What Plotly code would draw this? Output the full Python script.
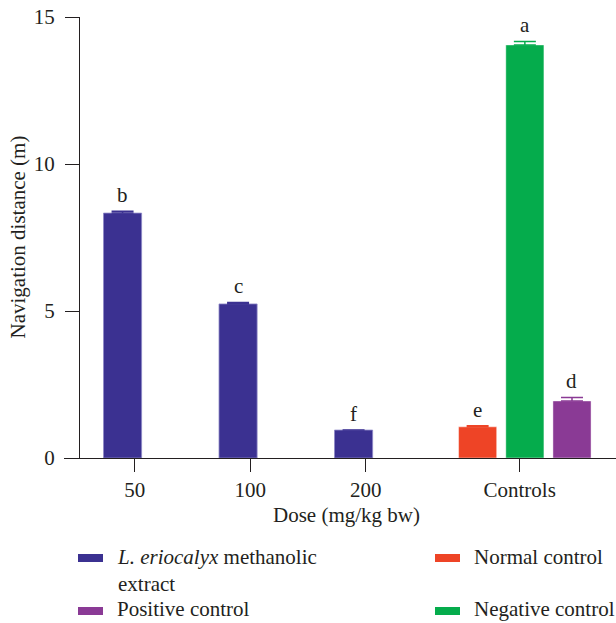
import plotly.graph_objects as go

# ---- data ----
dose_labels = ["50", "100", "200"]
extract_values = [8.33, 5.24, 0.95]
extract_errors = [0.06, 0.05, 0.0]
extract_letters = ["b", "c", "f"]

control_names = ["Normal control", "Negative control", "Positive control"]
control_values = [1.06, 14.05, 1.94]
control_errors = [0.04, 0.12, 0.12]
control_letters = ["e", "a", "d"]

tick_labels = dose_labels + ["Controls"]
y_ticks = [0, 5, 10, 15]

extract_name = "<i>L. eriocalyx</i> methanolic<br>extract"

# ---- styles ----
C_EXTRACT = "#3B3191"
C_CONTROLS = ["#EE4426", "#05AC4C", "#8A3A95"]
TXT = "#231F20"
FONT = "Liberation Serif"
FS = 21

# layout positions (axis units)
dose_pos = [0, 1, 2]
controls_pos = 3.333
bar_w = 0.33
extract_shift = -0.105
control_shifts = [-0.364, 0.045, 0.453]

W, H = 616, 623
L, R, T, B = 64, 0, 17, 165
PW, PH = W - L - R, H - T - B


def px(x):
    return (x - L) / PW


def py(y):
    return 1 - (y - T) / PH


fig = go.Figure()

fig.add_trace(go.Bar(
    x=dose_pos, y=extract_values, width=bar_w,
    offset=extract_shift - bar_w / 2,
    marker=dict(color=C_EXTRACT, line=dict(color="#8E88C6", width=0.8)),
    error_y=dict(type="data", array=extract_errors, arrayminus=[0] * 3,
                 symmetric=False, color=C_EXTRACT, thickness=1.5, width=11),
    showlegend=False,
))

for name, v, e, col, sh in zip(control_names, control_values, control_errors,
                               C_CONTROLS, control_shifts):
    fig.add_trace(go.Bar(
        x=[controls_pos], y=[v], width=bar_w, offset=sh - bar_w / 2,
        marker=dict(color=col, line=dict(color="rgba(255,255,255,0.55)", width=0.8)),
        error_y=dict(type="data", array=[e], arrayminus=[0], symmetric=False,
                     color=col, thickness=1.5, width=11),
        name=name, showlegend=False,
    ))

annotations = []
# significance letters
for p, v, e, lt in zip(dose_pos, extract_values, extract_errors, extract_letters):
    annotations.append(dict(x=p + extract_shift, y=v + e, xref="x", yref="y",
                            text=lt, showarrow=False, yanchor="bottom", yshift=2,
                            font=dict(family=FONT, size=FS, color=TXT)))
for v, e, lt, sh in zip(control_values, control_errors, control_letters, control_shifts):
    annotations.append(dict(x=controls_pos + sh, y=v + e, xref="x", yref="y",
                            text=lt, showarrow=False, yanchor="bottom", yshift=2,
                            font=dict(family=FONT, size=FS, color=TXT)))

# axis titles
annotations.append(dict(x=px(17), y=0.5, xref="paper", yref="paper",
                        text="Navigation distance (m)", textangle=-90,
                        showarrow=False, xanchor="center", yanchor="middle",
                        font=dict(family=FONT, size=FS, color=TXT)))
annotations.append(dict(x=px(347), y=py(515), xref="paper", yref="paper",
                        text="Dose (mg/kg bw)", showarrow=False,
                        xanchor="center", yanchor="middle",
                        font=dict(family=FONT, size=FS, color=TXT)))

# manual legend
legend_items = [
    (extract_name, C_EXTRACT, 78, 558, 570),
    (control_names[0], C_CONTROLS[0], 435, 558, 557),
    (control_names[2], C_CONTROLS[2], 78, 611, 609),
    (control_names[1], C_CONTROLS[1], 435, 611, 609),
]
shapes = []
for text, col, sx, sy, ty in legend_items:
    shapes.append(dict(type="rect", xref="paper", yref="paper",
                       x0=px(sx), x1=px(sx + 25), y0=py(sy - 4), y1=py(sy + 4),
                       fillcolor=col, line=dict(width=0)))
    annotations.append(dict(x=px(sx + 37), y=py(ty), xref="paper", yref="paper",
                            text=text, showarrow=False, xanchor="left",
                            yanchor="middle", align="left",
                            font=dict(family=FONT, size=FS, color=TXT)))

fig.update_layout(
    width=W, height=H,
    margin=dict(l=L, r=R, t=T, b=B),
    plot_bgcolor="white", paper_bgcolor="white",
    barmode="overlay",
    font=dict(family=FONT, size=FS, color=TXT),
    xaxis=dict(
        range=[-0.612, 4.167], tickvals=dose_pos + [controls_pos],
        ticktext=tick_labels, ticks="outside", ticklen=13, tickwidth=1.3,
        tickcolor=TXT, showline=True, linecolor=TXT, linewidth=1.3,
        showgrid=False, zeroline=False,
        tickfont=dict(family=FONT, size=FS, color=TXT),
    ),
    yaxis=dict(
        range=[0, 15], tickvals=y_ticks, ticks="outside", ticklen=14,
        tickwidth=1.3, tickcolor=TXT, showline=True, linecolor=TXT,
        linewidth=1.3, showgrid=False, zeroline=False,
        anchor="free", position=px(79), ticklabelstandoff=6,
        tickfont=dict(family=FONT, size=FS, color=TXT),
    ),
    annotations=annotations,
    shapes=shapes,
)

fig.write_html(
    "out.html",
    config={"displayModeBar": False},
    post_script="document.body.style.margin='0';document.body.style.overflow='hidden';",
)
